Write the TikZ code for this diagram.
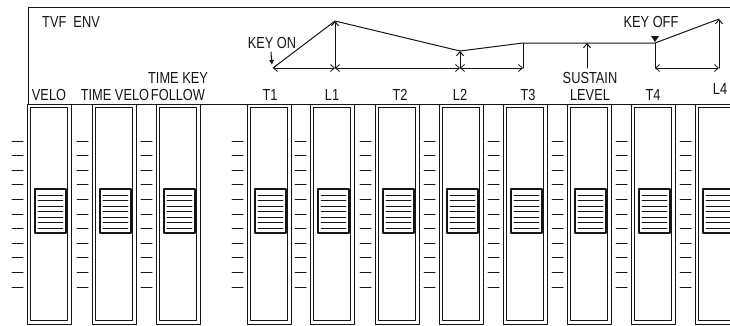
\documentclass[tikz,border=0pt]{standalone}
\usepackage{fontspec}
\newfontfamily\panelfont[FakeStretch=0.8]{Liberation Sans}
\usepackage{tikz}
\usetikzlibrary{arrows.meta}
\definecolor{panelink}{HTML}{151515}
\tikzset{
every picture/.style={line cap=round,line join=round},
>={Straight Barb[length=4pt,width=7pt]},
panel line/.style={draw=panelink, line width=0.9pt},
slider outer/.style={draw=panelink, line width=0.9pt},
slider inner/.style={draw=panelink, line width=0.8pt},
slider knob/.style={draw=panelink, fill=white, line width=1.8pt},
knob line/.style={draw=panelink, line width=0.8pt},
tick line/.style={draw=panelink, line width=1pt},
env line/.style={draw=panelink, line width=1pt},
env dim/.style={draw=panelink, line width=0.8pt, <->},
panel label/.style={font=\panelfont\fontsize{16}{16}\selectfont, text=panelink, inner sep=0pt, anchor=base}
}

\begin{document}
\begin{tikzpicture}[x=1pt,y=-1pt]
\useasboundingbox (0,0) rectangle (730,325);
\clip (0,0) rectangle (730,325);
% panel frame
\draw[panel line] (28,104) -- (28,7) -- (730,7);
\draw[panel line] (28,104) -- (730,104);
% sliders
\foreach \sx in {27,92,156,247,310,375,439,503,567,631,695}{
  \draw[slider outer] (\sx,104) rectangle ++(44,220);
  \draw[slider inner] (\sx+3.5,107.5) rectangle ++(37,213);
  \draw[slider knob] (\sx+8,189) rectangle ++(31,44);
  \foreach \ky in {195,200.5,...,229}
    \draw[knob line] (\sx+11,\ky) -- ++(25,0);
  \foreach \ty in {0,...,10}
    \draw[tick line] (\sx-15,141+14.6*\ty) -- ++(11,0);
}
% labels
\node[panel label] (tvfenv) at (71,27) {TVF\ \ ENV};
\node[panel label] (velo) at (49,100) {VELO};
\node[panel label] (timevelo) at (115,100) {TIME VELO};
\node[panel label] (timekey) at (178,83) {TIME KEY};
\node[panel label] (follow) at (178,100) {FOLLOW};
\node[panel label] (tone) at (270,100) {T1};
\node[panel label] (lone) at (332,100) {L1};
\node[panel label] (ttwo) at (400,100) {T2};
\node[panel label] (ltwo) at (460,100) {L2};
\node[panel label] (tthree) at (528,100) {T3};
\node[panel label] (sustain) at (590,83) {SUSTAIN};
\node[panel label] (level) at (590,100) {LEVEL};
\node[panel label] (tfour) at (653,100) {T4};
\node[panel label] (lfour) at (720,94) {L4};
\node[panel label] (keyonlabel) at (272,48) {KEY ON};
\node[panel label] (keyofflabel) at (651,27) {KEY OFF};
% envelope
\coordinate (keyon) at (273,68);
\coordinate (lvl1) at (335,21);
\coordinate (lvl2) at (460,51);
\coordinate (sus0) at (523,43);
\coordinate (keyoff) at (655,43);
\coordinate (lvl4) at (719,19);
\coordinate (susl) at (587,43);
\coordinate (base1) at (335,68);
\coordinate (base2) at (460,68);
\coordinate (base3) at (523,68);
\coordinate (bases) at (587,68);
\coordinate (base4) at (655,68);
\coordinate (base5) at (719,68);
\coordinate (konmark) at (271,52);
\coordinate (kontip) at (272,65);
\draw[env line] (keyon) -- (lvl1) -- (lvl2) -- (sus0) -- (keyoff) -- (lvl4);
\draw[env dim] (keyon) -- (base1);
\draw[env dim] (base1) -- (base2);
\draw[env dim] (base2) -- (base3);
\draw[env dim] (base4) -- (base5);
\draw[env line,->] (base1) -- (lvl1);
\draw[env line,->] (base2) -- (lvl2);
\draw[env line,->] (bases) -- (susl);
\draw[env line,->] (base5) -- (lvl4);
\draw[env line] (sus0) -- (base3);
\draw[env line] (keyoff) -- (base4);
\draw[env line,-{Latex[length=5pt,width=5pt]}] (konmark) -- (kontip);
\fill[panelink] (651,36) -- (659,36) -- (655,42) -- cycle;
\end{tikzpicture}
\end{document}
